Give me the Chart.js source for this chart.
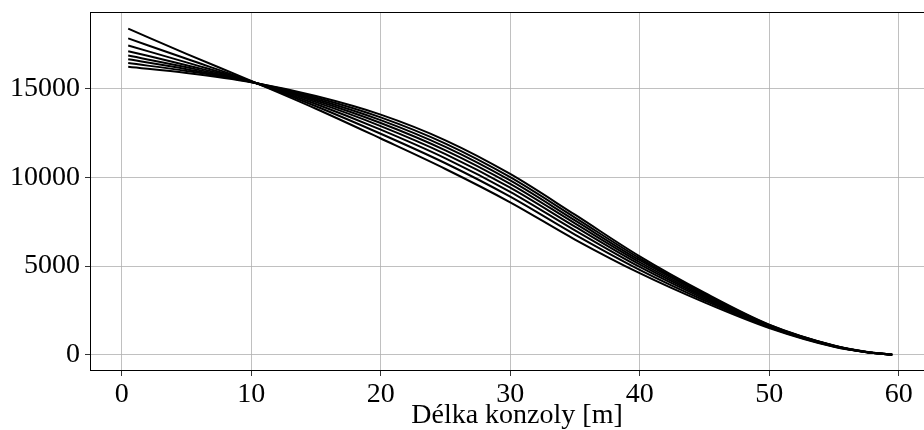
<!DOCTYPE html>
<html><head><meta charset="utf-8">
<script src="https://cdn.jsdelivr.net/npm/chart.js@4"></script>
<style>html,body{margin:0;padding:0;overflow:hidden;background:#fff}#wrap{width:950px;height:430px;position:relative}</style>
</head><body><div id="wrap"><canvas id="c" width="950" height="430"></canvas></div>
<script>
const xValues = [0.5, 5, 10, 15, 20, 25, 30, 35, 40, 45, 50, 55, 57.5, 59.5];
const series1 = [18400, 16980, 15450, 13880, 12200, 10480, 8600, 6500, 4600, 2950, 1500, 440, 135, 0];
const series2 = [17850, 16700, 15430, 14024, 12470, 10804, 8920, 6780, 4790, 3060, 1540, 456, 140, 0];
const series3 = [17450, 16500, 15420, 14146, 12699, 11079, 9192, 7018, 4951, 3153, 1574, 470, 144, 0];
const series4 = [17130, 16340, 15410, 14254, 12902, 11322, 9432, 7228, 5094, 3236, 1604, 482, 148, 0];
const series5 = [16880, 16220, 15400, 14348, 13077, 11533, 9640, 7410, 5217, 3307, 1630, 492, 151, 0];
const series6 = [16670, 16110, 15395, 14434, 13239, 11727, 9832, 7578, 5331, 3373, 1654, 502, 154, 0];
const series7 = [16460, 16010, 15390, 14517, 13395, 11914, 10016, 7739, 5441, 3437, 1677, 511, 157, 0];
const series8 = [16250, 15900, 15380, 14600, 13550, 12100, 10200, 7900, 5550, 3500, 1700, 520, 160, 0];
const xTicks = [0, 10, 20, 30, 40, 50, 60];
const yTicks = [0, 5000, 10000, 15000];
const xLabel = 'Délka konzoly [m]';

const allSeries = [series1, series2, series3, series4, series5, series6, series7, series8];
const datasets = allSeries.map(s => ({
  data: xValues.map((x, i) => ({x: x, y: s[i]})),
  borderColor: '#000',
  borderWidth: 2,
  pointRadius: 0,
  fill: false,
  cubicInterpolationMode: 'monotone'
}));

const framePlugin = {
  id: 'frame',
  afterDatasetsDraw(chart) {
    const {ctx, chartArea: a} = chart;
    ctx.save();
    ctx.strokeStyle = '#000';
    ctx.lineWidth = 1;
    const l = Math.round(a.left) + 0.5, t = Math.round(a.top) + 0.5;
    const r = Math.round(a.right) - 0.5, b = Math.round(a.bottom) - 0.5;
    ctx.strokeRect(l, t, r - l, b - t);
    ctx.restore();
  }
};

const tickFont = {family: 'Liberation Serif', size: 28, lineHeight: 1};
new Chart(document.getElementById('c'), {
  type: 'line',
  data: {datasets},
  plugins: [framePlugin],
  options: {
    animation: false,
    responsive: false,
    devicePixelRatio: 1,
    plugins: {legend: {display: false}, tooltip: {enabled: false}},
    layout: {padding: {top: 12, right: 6, left: 0, bottom: 0}},
    scales: {
      x: {
        type: 'linear', min: -2.45, max: 63.5,
        afterBuildTicks: a => { a.ticks = xTicks.map(v => ({value: v})); },
        grid: {color: '#b0b0b0', lineWidth: 0.8, tickColor: '#000', tickLength: 5},
        border: {display: false},
        ticks: {color: '#000', font: tickFont, padding: 5, maxRotation: 0, autoSkip: false, callback: v => String(v)},
        title: {display: true, text: xLabel, color: '#000', font: {family: 'Liberation Serif', size: 28, lineHeight: 1}, padding: {top: 1, bottom: 0}},
        afterFit: s => { s.height = 59; s.paddingLeft = 0; s.paddingRight = 0; }
      },
      y: {
        type: 'linear', min: -921, max: 19341,
        afterBuildTicks: a => { a.ticks = yTicks.map(v => ({value: v})); },
        grid: {color: '#b0b0b0', lineWidth: 0.8, tickColor: '#000', tickLength: 5},
        border: {display: false},
        ticks: {color: '#000', font: tickFont, padding: 5, autoSkip: false, callback: v => String(v)},
        afterFit: s => { s.width = 90; s.paddingTop = 0; s.paddingBottom = 0; }
      }
    }
  }
});
</script>
</body></html>
